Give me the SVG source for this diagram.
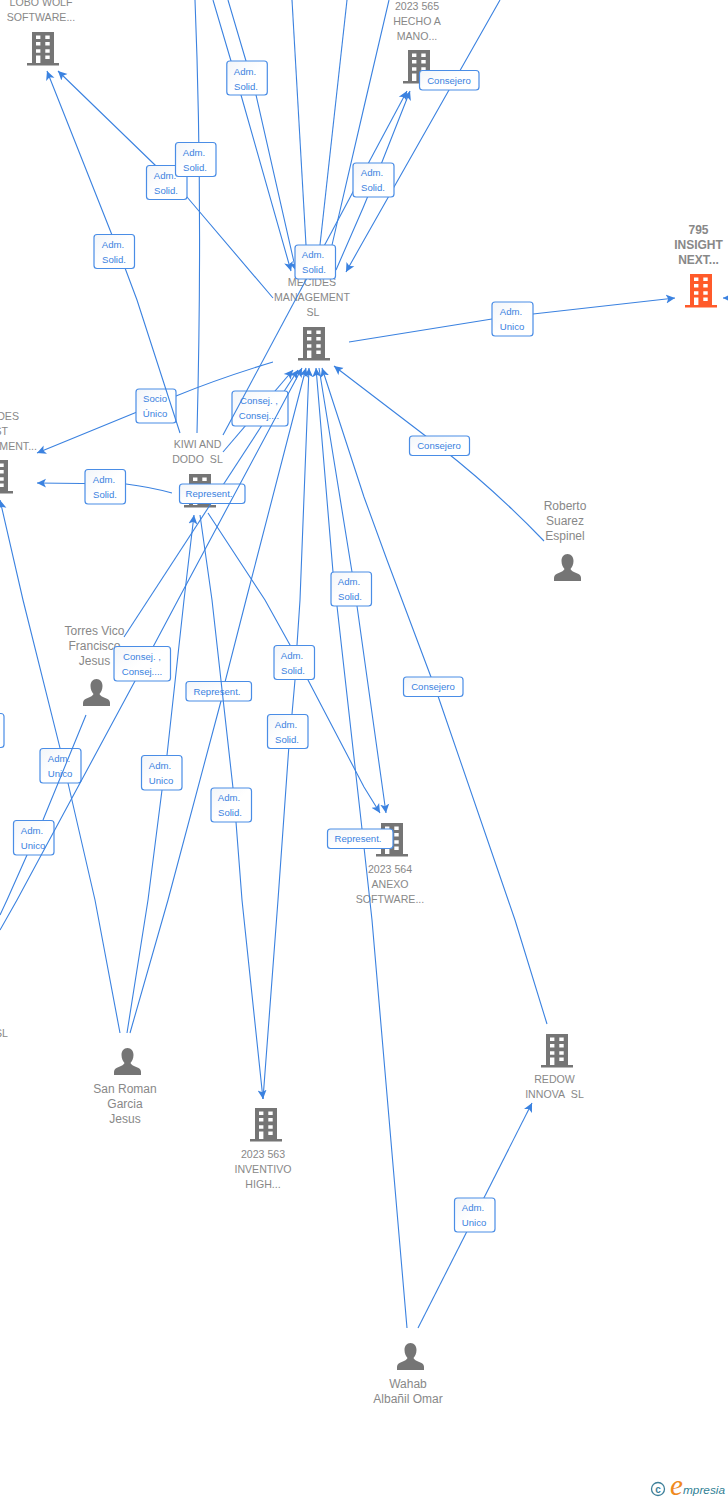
<svg xmlns="http://www.w3.org/2000/svg" width="728" height="1500" viewBox="0 0 728 1500">
<style>
.bg{fill:#fff}
.c{fill:none;stroke:#3b82e0;stroke-width:1.1}
.a{marker-end:url(#arrow)}
.l rect{fill:url(#lg);stroke:#4a8de6;stroke-width:1.2}
.l text{font:9.6px "Liberation Sans",Arial,sans-serif;fill:#3b82e0;text-anchor:middle}
.n{font:10.6px "Liberation Sans",Arial,sans-serif;fill:#888;text-anchor:middle}
.p{font:12px "Liberation Sans",Arial,sans-serif;fill:#888;text-anchor:middle}
.m{font:bold 12px "Liberation Sans",Arial,sans-serif;fill:#888;text-anchor:middle}
.e{text-anchor:end}
</style>
<defs>
<linearGradient id="lg" x1="0" y1="0" x2="1" y2="1"><stop offset="0" stop-color="#f2f5f9"/><stop offset="0.5" stop-color="#fff"/></linearGradient>
<marker id="arrow" markerUnits="userSpaceOnUse" markerWidth="11" markerHeight="11" refX="9" refY="5" orient="auto"><path d="M0,0.5L9,5L0,9.5L2.2,5z" fill="#3b82e0"/></marker>
<symbol id="bld" width="32" height="34" viewBox="0 0 32 34" overflow="visible"><path fill-rule="evenodd" d="M5,0H27V31H32V33.5H0V31H5ZM9,3.4V7H13.4V3.4ZM18.300,3.400V7H22.700V3.400ZM9,10V13.600H13.400V10ZM18.300,10V13.600H22.700V10ZM9,17.200V20.800H13.400V17.200ZM18.300,17.200V20.800H22.700V17.200ZM9,23.400V31H13.400V23.400ZM18.300,23.400V27H22.700V23.400Z"/></symbol>
<symbol id="per" width="27" height="27" viewBox="0 0 27 27"><path d="M13.5,0C17.2,0 19.5,3 19.5,7C19.5,10.5 18,13.5 16.5,15C17.5,17.5 21,18.5 24,19.7C26,20.5 27,22 27,24V27H0V24C0,22 1,20.5 3,19.7C6,18.5 9.5,17.5 10.5,15C9,13.5 7.5,10.500 7.5,7C7.5,3 9.8,0 13.5,0Z"/></symbol>
</defs>
<rect class="bg" width="728" height="1500"/>
<g id="nodes" fill="#757575">
<g id="lobo"><text class="n" x="41" y="6">LOBO WOLF</text><text class="n" x="41" y="21">SOFTWARE...</text><use href="#bld" x="27" y="32"/></g>
<g id="hecho"><text class="n" x="417" y="10">2023 565</text><text class="n" x="417" y="25">HECHO A</text><text class="n" x="417" y="40">MANO...</text><use href="#bld" x="403" y="50"/></g>
<g id="insight"><text class="m" x="698.500" y="234">795</text><text class="m" x="698.500" y="249">INSIGHT</text><text class="m" x="698.500" y="264">NEXT...</text><use href="#bld" x="685" y="274" fill="#ff5a2a"/></g>
<g id="mecides"><text class="n" x="312" y="286">MECIDES</text><text class="n" x="312" y="301">MANAGEMENT</text><text class="n" x="313" y="316">SL</text><use href="#bld" x="298" y="327"/></g>
<g id="left-company"><text class="n e" x="19" y="420">DES</text><text class="n e" x="8" y="435">ST</text><text class="n e" x="37" y="450">MENT...</text><use href="#bld" x="-19" y="460"/></g>
<g id="kiwi"><text class="n" x="197.500" y="448">KIWI AND</text><text class="n" x="197.500" y="463">DODO&#160; SL</text><use href="#bld" x="184" y="474"/></g>
<g id="torres"><text class="p" x="94.500" y="635">Torres Vico</text><text class="p" x="94.500" y="650">Francisco</text><text class="p" x="94.500" y="665">Jesus</text><use href="#per" x="83" y="679"/></g>
<g id="roberto"><text class="p" x="565" y="510">Roberto</text><text class="p" x="565" y="525">Suarez</text><text class="p" x="565" y="540">Espinel</text><use href="#per" x="554" y="554"/></g>
<g id="anexo"><use href="#bld" x="376" y="823"/><text class="n" x="390" y="873">2023 564</text><text class="n" x="390" y="888">ANEXO</text><text class="n" x="390" y="903">SOFTWARE...</text></g>
<g id="left-sl"><text class="n e" x="8" y="1037">SL</text></g>
<g id="sanroman"><use href="#per" x="114" y="1048"/><text class="p" x="125" y="1093">San Roman</text><text class="p" x="125" y="1108">Garcia</text><text class="p" x="125" y="1123">Jesus</text></g>
<g id="inventivo"><use href="#bld" x="250" y="1108"/><text class="n" x="263" y="1158">2023 563</text><text class="n" x="263" y="1173">INVENTIVO</text><text class="n" x="263" y="1188">HIGH...</text></g>
<g id="redow"><use href="#bld" x="541" y="1034"/><text class="n" x="554.500" y="1083">REDOW</text><text class="n" x="554.500" y="1098">INNOVA&#160; SL</text></g>
<g id="wahab"><use href="#per" x="397" y="1343"/><text class="p" x="408" y="1388">Wahab</text><text class="p" x="408" y="1403">Albañil Omar</text></g>
</g>
<g id="connectors">
<path class="c a" d="M223,452L293,370"/>
<path class="c a" d="M124,637L298,370"/>
<g class="l"><rect x="232" y="391" width="56" height="35" rx="3"/><text x="259" y="404">Consej. ,</text><text x="259" y="419">Consej....</text></g>
<path class="c a" d="M273,362Q220,378 176,396L37,453"/>
<g class="l"><rect x="136" y="389" width="40" height="34" rx="3"/><text x="155" y="402">Socio</text><text x="155" y="417">Único</text></g>
<path class="c a" d="M180,433L137,300L125,268L112,235L47,71"/>
<g class="l"><rect x="94" y="234.500" width="40.500" height="34" rx="3"/><text x="113" y="248">Adm.</text><text x="114" y="263">Solid.</text></g>
<path class="c" d="M197,433Q203,200 195,0"/>
<path class="c" d="M292,0L306,245"/>
<path class="c" d="M347,0L320,245"/>
<path class="c" d="M389,0L364,107L332,245"/>
<path class="c a" d="M213,0L231,61L241,95L291,271"/>
<path class="c a" d="M228,0L246,61L256,95L296,271"/>
<path class="c a" d="M223,435L407,91"/>
<path class="c a" d="M336,270L363,208L382,162L410,91"/>
<path class="c a" d="M500,0L364,240L346,272"/>
<path class="c a" d="M273,298L187,197L155,165L58,71"/>
<g class="l"><rect x="146.500" y="165.500" width="40.500" height="34" rx="3"/><text x="165" y="179">Adm.</text><text x="166" y="194">Solid.</text></g>
<g class="l"><rect x="175.500" y="142.500" width="40.500" height="34" rx="3"/><text x="194" y="156">Adm.</text><text x="195" y="171">Solid.</text></g>
<g class="l"><rect x="226.800" y="61" width="40.500" height="34" rx="3"/><text x="245" y="75">Adm.</text><text x="246" y="90">Solid.</text></g>
<g class="l"><rect x="353" y="163" width="41" height="34" rx="3"/><text x="372" y="176">Adm.</text><text x="373" y="191">Solid.</text></g>
<g class="l"><rect x="295" y="245" width="40.500" height="34" rx="3"/><text x="313" y="258">Adm.</text><text x="314" y="273">Solid.</text></g>
<g class="l"><rect x="419.500" y="70.500" width="59.500" height="19.500" rx="3"/><text x="449" y="84">Consejero</text></g>
<path class="c a" d="M349,342L492,319L533,314L675,298"/>
<g class="l"><rect x="492" y="302" width="41" height="34" rx="3"/><text x="511" y="315">Adm.</text><text x="512" y="330">Unico</text></g>
<path class="c a" d="M732,298L723,298"/>
<path class="c a" d="M172,493Q150,487 126,484L37,483"/>
<g class="l"><rect x="85" y="469.500" width="40.500" height="34.500" rx="3"/><text x="104" y="483">Adm.</text><text x="105" y="498">Solid.</text></g>
<path class="c a" d="M544,541Q495,490 440,447L334,366"/>
<g class="l"><rect x="409.500" y="436" width="60" height="19.500" rx="3"/><text x="439" y="449">Consejero</text></g>
<path class="c a" d="M130,1033L168,900L221,701L225,682L246,600L306,368"/>
<g class="l"><rect x="186" y="681.500" width="65.500" height="19.500" rx="3"/><text x="217" y="695">Represent.</text></g>
<path class="c a" d="M208,513L265,600L290,645L308,680L364,787L380,813"/>
<path class="c a" d="M127,1033L148,900L162,790L167,755L184,600L194,515"/>
<g class="l"><rect x="141.500" y="755.500" width="40.500" height="34.500" rx="3"/><text x="160" y="769">Adm.</text><text x="161" y="784">Unico</text></g>
<g class="l"><rect x="179.500" y="484" width="65.500" height="19.500" rx="3"/><text x="209" y="497">Represent.</text></g>
<path class="c a" d="M200,515L212,600L233,788L236,822L242,900L263,1099"/>
<g class="l"><rect x="211" y="788" width="40.500" height="34" rx="3"/><text x="229" y="801">Adm.</text><text x="230" y="816">Solid.</text></g>
<path class="c a" d="M263,1099L278,900L289,745L292,714L295,680L297,645L300,600L309,368"/>
<g class="l"><rect x="267.500" y="714.500" width="40.500" height="34" rx="3"/><text x="286" y="728">Adm.</text><text x="287" y="743">Solid.</text></g>
<g class="l"><rect x="274" y="645.500" width="40.500" height="34" rx="3"/><text x="292" y="659">Adm.</text><text x="293" y="674">Solid.</text></g>
<path class="c a" d="M407,1328L372,920L362,829L337,606L333,572L316,368"/>
<path class="c a" d="M319,368L352,572L357,606L386,813"/>
<g class="l"><rect x="331" y="572" width="40.500" height="34" rx="3"/><text x="349" y="585">Adm.</text><text x="350" y="600">Solid.</text></g>
<g class="l"><rect x="327.500" y="829" width="65.500" height="19.500" rx="3"/><text x="358" y="842">Represent.</text></g>
<path class="c a" d="M547,1024L515,920L438,696L431,677L387,560L364,497L322,368"/>
<g class="l"><rect x="403.500" y="677" width="59.500" height="19.500" rx="3"/><text x="433" y="690">Consejero</text></g>
<path class="c a" d="M120,1033L95,900L68,783L60,748L23,600L0,500"/>
<g class="l"><rect x="40" y="748.500" width="41" height="34.500" rx="3"/><text x="59" y="762">Adm.</text><text x="60" y="777">Unico</text></g>
<path class="c" d="M86,715L43,820L27,855L7,900L0,915"/>
<g class="l"><rect x="13.500" y="820.500" width="40.500" height="34.500" rx="3"/><text x="32" y="834">Adm.</text><text x="33" y="849">Unico</text></g>
<path class="c a" d="M0,930L17,900L135,681L153,647L178,600L302,368"/>
<g class="l"><rect x="114" y="646.500" width="56.500" height="34.500" rx="3"/><text x="142" y="660">Consej. ,</text><text x="142" y="675">Consej....</text></g>
<g class="l"><rect x="-37" y="713.500" width="41" height="34" rx="3"/></g>
<path class="c a" d="M418,1328L532,1103"/>
<g class="l"><rect x="454.500" y="1198" width="40.500" height="34" rx="3"/><text x="473" y="1211">Adm.</text><text x="474" y="1226">Unico</text></g>
</g>
<g id="logo">
<circle cx="658" cy="1489" r="6.500" fill="none" stroke="#3d7f99" stroke-width="1.300"/>
<text x="658" y="1492.500" font-family="Liberation Sans, sans-serif" font-size="10" font-weight="bold" fill="#3d7f99" text-anchor="middle">c</text>
<text x="670" y="1495" font-family="Liberation Serif, serif" font-style="italic" font-size="29" fill="#f08a1d">e</text>
<text x="683" y="1494" font-family="Liberation Sans, sans-serif" font-style="italic" font-size="11.800" fill="#2f7f95">mpresia</text>
</g>
</svg>
